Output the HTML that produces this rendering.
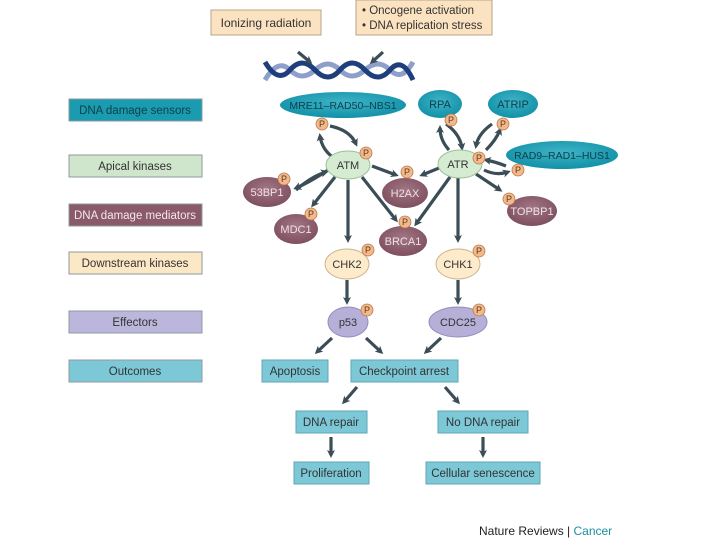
<!DOCTYPE html>
<html><head><meta charset="utf-8"><style>
html,body{margin:0;padding:0;background:#fff;}
svg{display:block;font-family:"Liberation Sans",sans-serif;}
</style></head><body>
<svg width="720" height="540" viewBox="0 0 720 540" xmlns="http://www.w3.org/2000/svg">
<defs>
<marker id="a" markerWidth="8" markerHeight="8" refX="5" refY="4" orient="auto" markerUnits="userSpaceOnUse"><path d="M0,0 L8,4 L0,8 L2,4 z" fill="#3b4d56"/></marker>
<radialGradient id="med" cx="50%" cy="40%" r="60%"><stop offset="0" stop-color="#a27684"/><stop offset="1" stop-color="#7e4f5f"/></radialGradient>
<radialGradient id="sen" cx="50%" cy="40%" r="60%"><stop offset="0" stop-color="#3fb3c6"/><stop offset="1" stop-color="#1191a8"/></radialGradient>
</defs>
<g stroke="#8c9aa0" stroke-width="1">
<rect x="69" y="99" width="133" height="22" fill="#1a9bb0"/>
<rect x="69" y="155" width="133" height="22" fill="#cfe6cc"/>
<rect x="69" y="204" width="133" height="22" fill="#8a5a6a"/>
<rect x="69" y="252" width="133" height="22" fill="#fde8c6"/>
<rect x="69" y="311" width="133" height="22" fill="#bcb6dc"/>
<rect x="69" y="360" width="133" height="22" fill="#7cc8d6"/>
</g>
<g font-size="11.5" text-anchor="middle">
<text x="135" y="114" fill="#0d3f4a">DNA damage sensors</text>
<text x="135" y="170" fill="#333">Apical kinases</text>
<text x="135" y="219" fill="#f4e8ec">DNA damage mediators</text>
<text x="135" y="267" fill="#333">Downstream kinases</text>
<text x="135" y="326" fill="#333">Effectors</text>
<text x="135" y="375" fill="#333">Outcomes</text>
</g>
<rect x="211" y="10" width="110" height="25" fill="#fbe3c2" stroke="#b9a58a"/>
<text x="266" y="27" font-size="12" text-anchor="middle" fill="#333">Ionizing radiation</text>
<rect x="356" y="0" width="136" height="35" fill="#fbe3c2" stroke="#b9a58a"/>
<text x="362" y="14" font-size="11.5" fill="#333">• Oncogene activation</text>
<text x="362" y="29" font-size="11.5" fill="#333">• DNA replication stress</text>
<g stroke-width="5" fill="none">
<path d="M265,80 Q278,58 290,70 T315,70 T340,70 T365,70 T390,70 T413,62" stroke="#8f9fcb"/>
<path d="M265,62 Q278,84 290,70 T315,70 T340,70 T365,70 T390,70 T413,80" stroke="#1f3f7c"/>
</g>
<g stroke="#3b4d56" stroke-width="3.2" fill="none" marker-end="url(#a)">
<line x1="298" y1="52" x2="310" y2="62"/>
<line x1="383" y1="52" x2="372" y2="62"/>
<path d="M330,126 Q350,130 356,144"/>
<path d="M334,158 Q322,150 320,136"/>
<path d="M296,190 Q312,176 326,172"/>
<path d="M328,170 Q310,182 296,188"/>
<line x1="335" y1="177" x2="313" y2="205"/>
<line x1="348" y1="180" x2="348" y2="240"/>
<line x1="362" y1="177" x2="396" y2="220"/>
<line x1="372" y1="166" x2="396" y2="175"/>
<line x1="444" y1="166" x2="422" y2="175"/>
<line x1="450" y1="177" x2="416" y2="224"/>
<line x1="458" y1="178" x2="458" y2="240"/>
<line x1="476" y1="174" x2="500" y2="190"/>
<path d="M449,150 Q440,140 440,128"/>
<path d="M446,124 Q460,134 462,148"/>
<path d="M492,124 Q478,134 476,146"/>
<path d="M486,150 Q496,140 500,130"/>
<path d="M506,166 Q496,162 486,160"/>
<path d="M484,170 Q496,176 508,172"/>
<line x1="347" y1="280" x2="347" y2="302"/>
<line x1="458" y1="280" x2="458" y2="302"/>
<line x1="332" y1="338" x2="317" y2="352"/>
<line x1="366" y1="338" x2="381" y2="352"/>
<line x1="441" y1="338" x2="426" y2="352"/>
<line x1="357" y1="387" x2="344" y2="402"/>
<line x1="445" y1="387" x2="458" y2="402"/>
<line x1="331" y1="437" x2="331" y2="455"/>
<line x1="483" y1="437" x2="483" y2="455"/>
</g>
<g fill="url(#sen)">
<ellipse cx="343" cy="105" rx="63" ry="13"/>
<ellipse cx="440" cy="104" rx="22" ry="14"/>
<ellipse cx="513" cy="104" rx="25" ry="14"/>
<ellipse cx="562" cy="155" rx="56" ry="14"/>
</g>
<g font-size="11" text-anchor="middle" fill="#0d3f4a">
<text x="343" y="109" font-size="10.5">MRE11–RAD50–NBS1</text>
<text x="440" y="108">RPA</text>
<text x="513" y="108">ATRIP</text>
<text x="562" y="159" font-size="10.5">RAD9–RAD1–HUS1</text>
</g>
<g fill="#d5ebd2" stroke="#9cbf98">
<ellipse cx="348" cy="165" rx="22" ry="14"/>
<ellipse cx="460" cy="164" rx="22" ry="14"/>
</g>
<g fill="url(#med)">
<ellipse cx="267" cy="192" rx="24" ry="15"/>
<ellipse cx="405" cy="193" rx="23" ry="15"/>
<ellipse cx="296" cy="229" rx="22" ry="15"/>
<ellipse cx="403" cy="241" rx="24" ry="15"/>
<ellipse cx="532" cy="211" rx="25" ry="15"/>
</g>
<g fill="#fdebcb" stroke="#c9b48f">
<ellipse cx="347" cy="264" rx="22" ry="15"/>
<ellipse cx="458" cy="264" rx="22" ry="15"/>
</g>
<g fill="#b6b0d8" stroke="#948dbf">
<ellipse cx="348" cy="322" rx="20" ry="15"/>
<ellipse cx="458" cy="322" rx="29" ry="15"/>
</g>
<g font-size="11" text-anchor="middle" fill="#333">
<text x="348" y="169">ATM</text><text x="458" y="168">ATR</text>
<text x="347" y="268">CHK2</text><text x="458" y="268">CHK1</text>
<text x="348" y="326">p53</text><text x="458" y="326">CDC25</text>
</g>
<g font-size="11" text-anchor="middle" fill="#f0e2e6">
<text x="267" y="196">53BP1</text><text x="405" y="197">H2AX</text>
<text x="296" y="233">MDC1</text><text x="403" y="245">BRCA1</text><text x="532" y="215">TOPBP1</text>
</g>
<g fill="#f4b98a" stroke="#b9784a" stroke-width="0.8">
<circle cx="322" cy="124" r="6"/><circle cx="366" cy="153" r="6"/>
<circle cx="451" cy="120" r="6"/><circle cx="503" cy="124" r="6"/>
<circle cx="479" cy="158" r="6"/><circle cx="518" cy="170" r="6"/>
<circle cx="284" cy="179" r="6"/><circle cx="407" cy="172" r="6"/>
<circle cx="311" cy="214" r="6"/><circle cx="405" cy="222" r="6"/>
<circle cx="509" cy="199" r="6"/><circle cx="368" cy="250" r="6"/>
<circle cx="479" cy="251" r="6"/><circle cx="367" cy="310" r="6"/>
<circle cx="479" cy="310" r="6"/>
</g>
<g font-size="9" text-anchor="middle" fill="#5a3a20">
<text x="322" y="127">P</text><text x="366" y="156">P</text>
<text x="451" y="123">P</text><text x="503" y="127">P</text>
<text x="479" y="161">P</text><text x="518" y="173">P</text>
<text x="284" y="182">P</text><text x="407" y="175">P</text>
<text x="311" y="217">P</text><text x="405" y="225">P</text>
<text x="509" y="202">P</text><text x="368" y="253">P</text>
<text x="479" y="254">P</text><text x="367" y="313">P</text>
<text x="479" y="313">P</text>
</g>
<g fill="#7cc8d6" stroke="#5fa6b4">
<rect x="262" y="360" width="66" height="22"/>
<rect x="351" y="360" width="107" height="22"/>
<rect x="296" y="411" width="71" height="22"/>
<rect x="438" y="411" width="90" height="22"/>
<rect x="294" y="462" width="75" height="22"/>
<rect x="426" y="462" width="114" height="22"/>
</g>
<g font-size="11.5" text-anchor="middle" fill="#333">
<text x="295" y="375">Apoptosis</text>
<text x="404" y="375">Checkpoint arrest</text>
<text x="331" y="426">DNA repair</text>
<text x="483" y="426">No DNA repair</text>
<text x="331" y="477">Proliferation</text>
<text x="483" y="477">Cellular senescence</text>
</g>
<text x="479" y="535" font-size="12" fill="#222">Nature Reviews | <tspan fill="#1a8fa3">Cancer</tspan></text>
</svg>
</body></html>
